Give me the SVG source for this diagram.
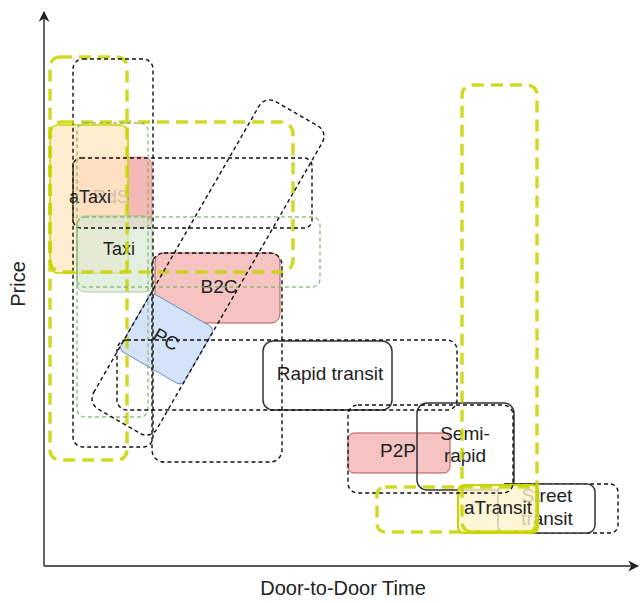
<svg xmlns="http://www.w3.org/2000/svg" width="640" height="603" viewBox="0 0 640 603">
<defs>
<marker id="arr" viewBox="0 0 10 10" refX="9" refY="5" markerWidth="11" markerHeight="11" markerUnits="userSpaceOnUse" orient="auto"><path d="M0,0 L10,5 L0,10 L3,5 z" fill="#222"/></marker>
<style>
.lbl{font-family:"Liberation Sans",Arial,sans-serif;font-size:19px;fill:#222;text-anchor:middle}
.ax{font-family:"Liberation Sans",Arial,sans-serif;font-size:20px;fill:#222;text-anchor:middle}
.yd{fill:none;stroke:#c8d400;stroke-width:3.5;stroke-dasharray:12 7;opacity:.85}
.bd{fill:none;stroke:#111;stroke-width:1.4;stroke-dasharray:4 3}
.gd{fill:none;stroke:#82b366;stroke-width:1.4;stroke-dasharray:4 3;opacity:.85}
.red{fill:#f5c3c1;stroke:#b85450;stroke-width:1}
.solid{stroke:#333;stroke-width:1.5}
</style>
</defs>
<rect width="640" height="603" fill="#fff"/>
<g id="connectors">
<line x1="44" y1="566" x2="44" y2="12" stroke="#666" stroke-width="2" marker-end="url(#arr)"/>
<line x1="44" y1="566" x2="638" y2="566" stroke="#222" stroke-width="1.6" marker-end="url(#arr)"/>
</g>
<g id="axis-labels">
<text class="ax" transform="translate(25,284) rotate(-90)">Price</text>
<text class="ax" x="343" y="595">Door-to-Door Time</text>
</g>
<g id="RdS"><rect x="73" y="157" width="79" height="71" rx="8" fill="#f3b9b7" stroke="#b85450" stroke-opacity=".5"/><text class="lbl" x="111" y="203" font-size="18">RdS</text></g>
<g id="aTaxi"><rect x="50" y="125" width="78" height="148" rx="8" fill="#ffe8c4" fill-opacity=".8" stroke="#c8d400" stroke-width="1.5"/><text class="lbl" x="90" y="203" style="font-size:18px">aTaxi</text></g>
<g id="Taxi"><rect x="77" y="216" width="75" height="76" rx="8" fill="#d5e8d4" fill-opacity=".7" stroke="#82b366" stroke-opacity=".6"/><text class="lbl" x="119" y="255" style="font-size:18px">Taxi</text></g>
<g id="B2C"><rect class="red" x="155" y="253" width="125" height="70" rx="9"/><text class="lbl" x="219" y="293">B2C</text></g>
<g id="PC" transform="translate(166.5,339) rotate(30)"><rect x="-36.5" y="-33" width="73" height="66" rx="6" fill="#d4e3f7" stroke="#6c8ebf"/><text class="lbl" x="0" y="7">PC</text></g>
<g id="Rapid-transit"><rect class="solid" x="263" y="341" width="129" height="69" rx="10" fill="#fff"/><text class="lbl" x="330" y="380">Rapid transit</text></g>
<g id="P2P"><rect class="red" x="348" y="433" width="102" height="40" rx="6"/><text class="lbl" x="398" y="457">P2P</text></g>
<g id="Semi-rapid"><rect class="solid" x="417" y="403" width="97" height="87" rx="10" fill="none"/><text class="lbl" x="465" y="440">Semi-</text><text class="lbl" x="465" y="462">rapid</text></g>
<g id="region-street"><rect class="bd" x="498" y="484" width="120" height="49" rx="8"/></g>
<g id="Street-transit"><rect class="solid" x="498" y="484" width="97" height="49" rx="8" fill="#fff"/><text class="lbl" x="547" y="502">Street</text><text class="lbl" x="547" y="525">transit</text></g>
<g id="aTransit"><rect x="458" y="485" width="80" height="48" rx="6" fill="#fff2cc" fill-opacity=".78" stroke="#c8d400" stroke-width="2"/><text class="lbl" x="498" y="514">aTransit</text></g>
<g id="regions">
<g id="region-yellow-left"><rect class="yd" x="50" y="57" width="77" height="403" rx="10"/></g>
<g id="region-black-tall"><rect class="bd" x="73" y="59" width="80" height="388" rx="10"/></g>
<g id="region-yellow-mid"><rect class="yd" x="50" y="122" width="243" height="150" rx="12"/></g>
<g id="region-black-mid"><rect class="bd" x="73" y="158" width="239" height="70" rx="8"/></g>
<g id="region-green-tall"><rect class="gd" x="77" y="123" width="71" height="294" rx="8"/></g>
<g id="region-green-wide"><rect class="gd" x="77" y="217" width="243" height="70" rx="8"/></g>
<g id="region-diagonal"><rect class="bd" x="-177.5" y="-36.5" width="355" height="73" rx="12" transform="translate(208,267.5) rotate(-60)"/></g>
<g id="region-b2c"><rect class="bd" x="152" y="253" width="130" height="209" rx="12"/></g>
<g id="region-rapid"><rect class="bd" x="117" y="340" width="340" height="70" rx="10"/></g>
<g id="region-semi"><rect class="bd" x="348" y="405" width="165" height="88" rx="10"/></g>
<g id="region-yellow-right"><rect class="yd" x="462" y="85" width="75" height="447" rx="10"/></g>
<g id="region-yellow-bottom"><rect class="yd" x="377" y="487" width="160" height="45" rx="8"/></g>
</g>
</svg>
